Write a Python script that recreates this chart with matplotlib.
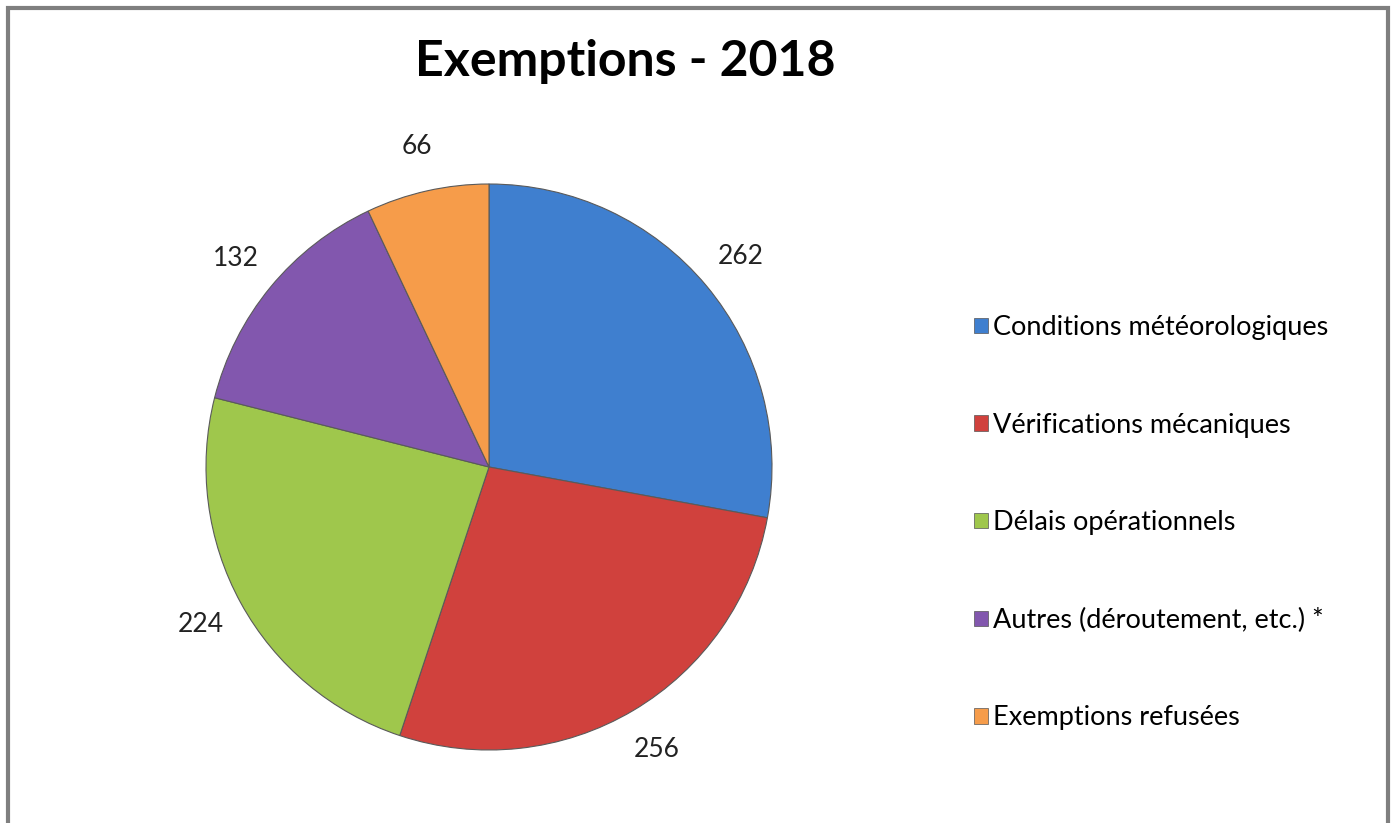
"""Pie chart of 2018 exemptions by category."""

import matplotlib.pyplot as plt
from matplotlib.patches import Rectangle, Patch

categories = [
    "Conditions météorologiques",
    "Vérifications mécaniques",
    "Délais opérationnels",
    "Autres (déroutement, etc.) *",
    "Exemptions refusées",
]
values = [262, 256, 224, 132, 66]
colors = ["#3f7fcf", "#d0413d", "#9fc74c", "#8257ae", "#f69c4a"]

plt.rcParams["font.family"] = ["Lato", "DejaVu Sans"]

fig = plt.figure(figsize=(13.92, 8.23), dpi=100)

# grey frame around the chart area
fig.patches.append(Rectangle((8 / 1392, -0.05), 1380 / 1392, 1 - 8 / 823 + 0.05,
                             transform=fig.transFigure, fill=False,
                             edgecolor="#7f7f7f", linewidth=3))

fig.text(625 / 1392, 1 - 62 / 823, "Exemptions - 2018", ha="center", va="center",
         fontsize=36, fontweight="bold", color="#000000")

# pie: centre (489, 467), radius 283 px
r = 283
cx, cy = 489, 467
ax = fig.add_axes([(cx - r) / 1392, (823 - cy - r) / 823, 2 * r / 1392, 2 * r / 823])
wedges, texts = ax.pie(
    values,
    colors=colors,
    startangle=90,
    counterclock=False,
    labels=[str(v) for v in values],
    labeldistance=1.16,
    wedgeprops=dict(edgecolor="#5a5a5a", linewidth=0.8),
    textprops=dict(fontsize=19, color="#222222"),
)
for t in texts:
    t.set_ha("center")
    t.set_va("center")
ax.set_xlim(-1, 1)
ax.set_ylim(-1, 1)
ax.set_aspect("equal")

handles = [Patch(facecolor=c, edgecolor="#555555", linewidth=0.5) for c in colors]
fig.legend(handles, categories, loc="upper left",
           bbox_to_anchor=(974 / 1392, 1 - 315 / 823),
           frameon=False, fontsize=19.5, labelspacing=2.68,
           handlelength=0.5, handleheight=0.5, handletextpad=0.2,
           borderpad=0, borderaxespad=0)

fig.savefig("out.png", dpi=100)
